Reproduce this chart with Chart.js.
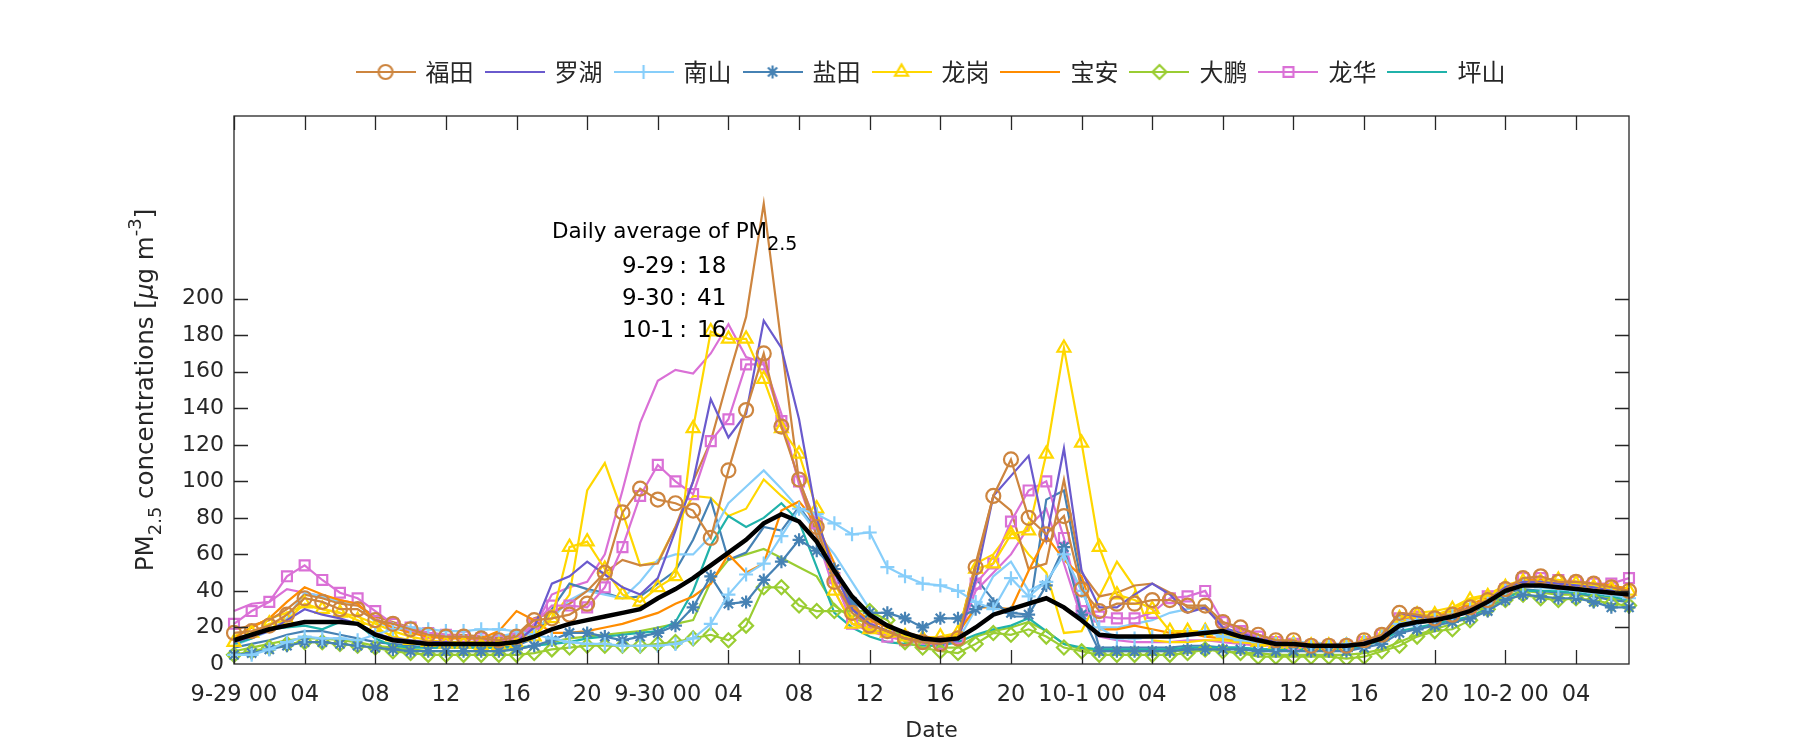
<!DOCTYPE html>
<html><head><meta charset="utf-8">
<script src="https://cdn.jsdelivr.net/npm/chart.js@4/dist/chart.umd.min.js"></script>
<style>html,body{margin:0;padding:0;background:#fff}#wrap{width:1800px;height:750px}</style>
</head><body><div id="wrap"><canvas id="c" width="1800" height="750"></canvas></div>
<script>
// ---------- DATA (hourly, 9-29 00:00 .. 10-2 07:00) ----------
const days = ['9-29', '9-30', '10-1', '10-2'];
const tickLabels = ['9-29 00','04','08','12','16','20','9-30 00','04','08','12','16','20','10-1 00','04','08','12','16','20','10-2 00','04'];
const districts = ['福田','罗湖','南山','盐田','龙岗','宝安','大鹏','龙华','坪山'];
const dailyDates = ['9-29', '9-30', '10-1'];
const dailyAvg = [18, 41, 16];

const futian = [17,18,21,27,36,34,30,30, 24,22,19,16,15,15,14,13, 15,24,25,27,33,50,83,96,
  90,88,84,69,106,139,170,130, 101,75,45,28,21,18,14,12, 11,14,53,92,112,80,71,81,
  41,29,33,33,35,35,32,32, 23,20,16,13,13,10,10,10, 13,16,28,27,25,27,31,35, 41,47,48,45,45,44,42,40];
const futianB = [19,21,24,30,38,36,33,32, 26,23,20,17,16,16,15,14, 16,25,28,33,40,50,57,54,
  55,75,100,122,157,190,252,175, 100,70,45,30,22,18,15,13, 12,15,55,92,84,52,55,101,
  50,37,39,43,44,39,31,30, 22,19,16,13,12,11,10,10, 12,15,27,26,26,28,32,36, 42,46,47,46,45,44,43,41];
const luohu = [12,15,18,24,30,27,25,22, 17,14,13,12,12,11,11,11, 12,20,44,48,56,49,42,38,
  47,73,100,145,124,137,188,173, 134,80,50,30,22,18,14,12, 11,13,46,92,103,114,68,118,
  51,31,31,38,44,38,28,31, 20,17,14,12,11,10,10,10, 12,15,28,26,25,27,30,35, 42,45,45,44,43,42,40,38];
const nanshan = [5,5,8,12,15,14,14,13, 16,19,20,19,18,18,19,19, 18,16,14,12,11,11,10,10,
  10,11,14,22,38,49,55,70, 85,82,77,71,72,53,48,44, 43,40,34,30,47,37,45,60,
  40,20,14,14,15,15,16,18, 15,13,12,11,11,10,10,11, 12,15,22,24,25,27,30,33, 40,43,42,41,40,39,38,36];
const nanshanB = [10,14,18,25,39,37,34,33, 23,20,19,17,16,15,15,15, 17,20,25,35,40,38,36,45,
  57,60,60,70,88,97,106,96, 85,72,60,45,30,20,15,13, 12,13,30,48,56,40,45,60,
  40,20,20,22,24,28,30,32, 20,16,14,13,12,12,11,11, 12,16,24,25,26,28,31,35, 42,44,44,43,42,41,40,38];
const yantian = [5,6,8,10,12,12,11,10, 9,8,7,7,7,7,7,7, 8,10,13,17,17,15,13,15,
  17,21,31,48,33,34,46,56, 68,62,52,34,28,28,25,20, 25,25,30,33,28,27,43,64,
  27,7,7,7,7,7,8,8, 8,8,7,7,7,7,7,7, 9,11,17,19,21,23,25,29, 35,38,37,36,36,34,31,31];
const yantianB = [9,11,13,16,18,18,16,14, 12,11,10,9,9,9,9,9, 10,14,30,44,41,39,36,37,
  44,51,68,90,57,61,75,73, 86,73,51,30,22,18,15,13, 12,14,47,35,26,26,90,95,
  44,9,9,9,9,9,10,10, 9,9,8,8,8,8,8,8, 10,13,20,22,24,26,28,32, 39,41,40,39,39,37,35,34];
const longgang = [12,17,22,24,33,30,28,24, 20,15,13,12,11,11,10,10, 11,15,25,64,67,52,38,34,
  42,48,129,182,178,178,156,129, 115,85,40,22,19,17,15,14, 15,17,52,55,71,73,115,173,
  121,64,38,35,30,18,18,18, 16,14,12,11,11,10,10,10, 12,15,25,27,27,30,35,37, 42,45,45,46,44,42,41,40];
const longgangB = [15,20,25,28,32,30,28,26, 22,18,15,13,12,12,12,12, 13,18,25,38,95,110,83,54,
  56,75,92,91,81,85,101,92, 84,75,45,25,18,16,14,13, 13,16,55,60,73,60,50,17,
  18,37,56,42,13,12,12,13, 13,12,11,10,10,10,10,10, 12,16,26,28,29,31,36,38, 43,46,46,45,44,43,42,41];
const baoan = [14,20,25,34,42,38,35,33, 24,20,17,15,14,14,14,18, 29,24,17,17,18,20,22,25,
  28,33,37,44,60,50,55,84, 89,77,55,31,24,20,17,15, 14,17,31,31,30,51,70,57,
  48,19,19,21,19,17,17,15, 14,13,12,11,11,10,10,10, 12,15,25,26,27,29,33,36, 42,46,46,45,45,44,43,41];
const dapeng = [5,7,9,11,12,12,11,10, 9,7,6,5,5,5,5,5, 5,6,8,9,10,10,10,10,
  11,12,14,16,13,21,42,42, 32,29,29,29,29,24,12,9, 7,6,11,17,16,19,15,9,
  7,5,5,5,5,5,6,8, 7,6,4,4,4,4,4,3, 4,7,10,15,18,19,24,30, 35,38,36,35,36,35,33,32];
const dapengB = [7,9,11,13,14,14,13,12, 10,9,8,7,7,7,7,7, 8,10,12,14,15,16,17,18,
  20,22,24,45,57,60,63,58, 53,48,32,25,22,18,14,11, 9,9,15,18,20,23,18,11,
  8,7,7,7,7,7,7,8, 7,6,6,5,5,5,5,5, 6,8,12,16,19,22,26,31, 37,40,39,38,38,37,36,35];
const longhua = [22,29,34,48,54,46,39,36, 29,22,20,17,16,15,14,13, 14,22,32,32,31,42,64,92,
  109,100,93,122,134,164,164,133, 100,77,47,22,20,15,13,11, 11,14,44,55,78,95,100,69,
  29,26,25,25,28,36,37,40, 23,18,15,12,11,10,10,10, 12,16,25,26,25,27,30,37, 41,47,47,46,45,44,44,47];
const longhuaB = [29,33,34,41,39,37,35,33, 25,20,18,16,15,14,13,13, 14,20,38,42,45,60,95,132,
  155,161,159,170,186,168,165,137, 98,70,40,22,18,15,13,12, 12,14,40,50,60,75,85,55,
  25,15,13,12,12,12,13,13, 12,11,10,10,9,9,9,9, 11,14,24,25,25,27,29,35, 41,44,44,43,42,41,41,40];
const pingshan = [11,14,19,20,21,19,23,22, 14,10,9,9,9,9,9,9, 9,10,11,12,14,15,16,17,
  18,23,40,65,81,75,80,88, 78,53,28,20,15,12,11,10, 10,12,16,19,21,25,18,11,
  9,8,8,8,8,8,9,9, 9,9,8,8,8,8,8,8, 10,13,18,20,22,24,26,30, 36,40,40,40,39,38,37,35];
const average = [13,16,19,21,23,23,23,22, 16,13,12,11,11,11,11,11, 12,15,19,22,24,26,28,30,
  36,41,47,54,61,68,77,82, 78,67,51,37,27,21,17,14, 13,14,20,27,30,33,36,31,
  24,16,15,15,15,15,16,17, 18,15,13,11,11,10,10,10, 11,14,21,23,24,26,29,34, 40,43,43,42,41,40,39,38];

// categories: one per hour
const categories = [];
days.forEach(d => { for (let h = 0; h < 24; h++) categories.push(d + ' ' + String(h).padStart(2, '0')); });
categories.length = futian.length;

// ---------- STYLES ----------
const colors = ['#CD853F','#6A5ACD','#87CEFA','#4682B4','#FFD700','#FF8C00','#9ACD32','#DA70D6','#20B2AA'];
const markers = ['circle', null, 'cross', 'star', 'triangle', null, 'rectRot', 'rect', null];
const markerSize = [7, 0, 7, 6.5, 7.5, 0, 7, 7, 0];
const TXT = '#262626';
const FONT = '"DejaVu Sans", "Liberation Sans", sans-serif';
const LW = 2.2;

function drawMarker(g, style, x, y, r) {
  g.beginPath();
  if (style === 'circle') { g.arc(x, y, r, 0, Math.PI * 2); }
  else if (style === 'cross') { g.moveTo(x - r, y); g.lineTo(x + r, y); g.moveTo(x, y - r); g.lineTo(x, y + r); }
  else if (style === 'star') { const d = r * Math.SQRT1_2; g.moveTo(x - r, y); g.lineTo(x + r, y); g.moveTo(x, y - r); g.lineTo(x, y + r);
    g.moveTo(x - d, y - d); g.lineTo(x + d, y + d); g.moveTo(x - d, y + d); g.lineTo(x + d, y - d); }
  else if (style === 'triangle') { let a = 0; g.moveTo(x + Math.sin(a) * r, y - Math.cos(a) * r);
    for (let k = 0; k < 2; k++) { a += 2 * Math.PI / 3; g.lineTo(x + Math.sin(a) * r, y - Math.cos(a) * r); } g.closePath(); }
  else if (style === 'rectRot') { g.moveTo(x, y - r); g.lineTo(x + r, y); g.lineTo(x, y + r); g.lineTo(x - r, y); g.closePath(); }
  else if (style === 'rect') { const s = r * Math.SQRT1_2; g.rect(x - s, y - s, 2 * s, 2 * s); }
  g.stroke();
}
function makeIcon(i) {
  const c = document.createElement('canvas'); c.width = 60; c.height = 22;
  const g = c.getContext('2d'); g.strokeStyle = colors[i]; g.lineWidth = LW;
  g.beginPath(); g.moveTo(0, 11); g.lineTo(60, 11); g.stroke();
  if (markers[i]) drawMarker(g, markers[i], 30, 11, markerSize[i]);
  return c;
}
const icons = districts.map((d, i) => makeIcon(i));

function mainDs(i, data) {
  return { label: districts[i], data, borderColor: colors[i], backgroundColor: colors[i], borderWidth: LW,
    pointStyle: markers[i] || 'circle', pointRadius: markers[i] ? markerSize[i] : 0, pointBorderWidth: LW,
    pointBackgroundColor: 'rgba(0,0,0,0)', pointBorderColor: colors[i], pointHoverRadius: 0, tension: 0, fill: false };
}
function extraDs(i, data) {
  return { label: '', data, borderColor: colors[i], borderWidth: LW, pointRadius: 0, pointHoverRadius: 0, tension: 0, fill: false };
}

const datasets = [
  mainDs(0, futian), mainDs(1, luohu), mainDs(2, nanshan), mainDs(3, yantian), mainDs(4, longgang),
  mainDs(5, baoan), mainDs(6, dapeng), mainDs(7, longhua), mainDs(8, pingshan),
  extraDs(0, futianB), extraDs(2, nanshanB), extraDs(3, yantianB), extraDs(4, longgangB), extraDs(6, dapengB), extraDs(7, longhuaB),
  { label: 'avg', data: average, borderColor: '#000', borderWidth: 4.5, pointRadius: 0, pointHoverRadius: 0, tension: 0, fill: false, order: -1 }
];

// ---------- PLUGINS ----------
const legendHeight = { id: 'legendHeight', beforeInit(chart) {
  const lg = chart.legend; if (!lg) return; const fit = lg.fit;
  lg.fit = function () { fit.call(this); this.height = 69; };
} };

function drawRich(ctx, parts, x, y, align) {
  // parts: [text, size, dy, italic]
  let total = 0;
  parts.forEach(p => { ctx.font = (p[3] ? 'italic ' : '') + p[1] + 'px ' + FONT; total += ctx.measureText(p[0]).width; });
  let cx = align === 'center' ? x - total / 2 : x;
  parts.forEach(p => { ctx.font = (p[3] ? 'italic ' : '') + p[1] + 'px ' + FONT; ctx.fillText(p[0], cx, y + p[2]); cx += ctx.measureText(p[0]).width; });
}

const frame = { id: 'frame', afterDraw(chart) {
  const { ctx, chartArea: a, scales } = chart; const x = scales.x, y = scales.y;
  ctx.save();
  ctx.strokeStyle = TXT; ctx.lineWidth = 1.3;
  ctx.strokeRect(a.left, a.top, a.right - a.left, a.bottom - a.top);
  const TL = 14;
  ctx.beginPath();
  for (let i = 0; i < categories.length; i += 4) {
    const px = Math.round(x.getPixelForValue(i)) + 0.5;
    ctx.moveTo(px, a.bottom); ctx.lineTo(px, a.bottom - TL);
    ctx.moveTo(px, a.top); ctx.lineTo(px, a.top + TL);
  }
  for (let v = 20; v <= 200; v += 20) {
    const py = Math.round(y.getPixelForValue(v)) + 0.5;
    ctx.moveTo(a.left, py); ctx.lineTo(a.left + TL, py);
    ctx.moveTo(a.right, py); ctx.lineTo(a.right - TL, py);
  }
  ctx.stroke();
  // axis titles
  ctx.fillStyle = TXT; ctx.textBaseline = 'middle';
  ctx.font = '22px ' + FONT; ctx.textAlign = 'center';
  ctx.fillText('Date', (a.left + a.right) / 2, 731);
  ctx.textAlign = 'left';
  ctx.save(); ctx.translate(147, (a.top + a.bottom) / 2); ctx.rotate(-Math.PI / 2);
  drawRich(ctx, [['PM', 24.5, 0], ['2.5', 18, 9], [' concentrations [', 24.5, 0], ['\u03bc', 24.5, 0, true], ['g m', 24.5, 0], ['-3', 18, -11], [']', 24.5, 0]], 0, 0, 'center');
  ctx.restore();
  // annotation
  ctx.fillStyle = '#000';
  drawRich(ctx, [['Daily average of PM', 21.5, 0], ['2.5', 19, 13]], a.left + 318, 232, 'left');
  dailyDates.forEach((d, k) => {
    const yy = 267 + k * 32;
    ctx.font = '23px ' + FONT;
    ctx.textAlign = 'left'; ctx.fillText(d, a.left + 388, yy);
    ctx.textAlign = 'center'; ctx.fillText(':', a.left + 449, yy);
    ctx.textAlign = 'left'; ctx.fillText(String(dailyAvg[k]), a.left + 463, yy);
  });
  ctx.restore();
} };

Chart.defaults.font.family = FONT;
Chart.defaults.color = TXT;

new Chart(document.getElementById('c'), {
  type: 'line',
  data: { labels: categories, datasets },
  options: {
    responsive: false, animation: false, devicePixelRatio: 1,
    layout: { padding: { left: 0, right: 171, top: 47, bottom: 0 } },
    plugins: {
      tooltip: { enabled: false },
      legend: { position: 'top', fullSize: false, align: 'center',
        labels: { usePointStyle: true, pointStyleWidth: 56, padding: 13, color: TXT,
          font: { family: '"Noto Sans CJK SC", sans-serif', size: 24 },
          generateLabels: () => districts.map((d, i) => ({ text: d, pointStyle: icons[i], datasetIndex: i, hidden: false,
            fillStyle: colors[i], strokeStyle: colors[i], lineWidth: 0, fontColor: TXT })) } }
    },
    scales: {
      x: { type: 'category', offset: false, grid: { display: false, drawTicks: false }, border: { display: false },
        ticks: { autoSkip: false, maxRotation: 0, minRotation: 0, padding: 18, color: TXT, font: { size: 22.5 },
          callback: (v, i) => (i % 4 === 0 ? tickLabels[i / 4] : null) },
        afterFit: s => { s.height = 86; } },
      y: { min: 0, max: 300, grid: { display: false, drawTicks: false }, border: { display: false },
        ticks: { stepSize: 20, padding: 10, color: TXT, font: { size: 22 }, callback: v => (v <= 200 ? v : null) },
        afterFit: s => { s.width = 234; } }
    }
  },
  plugins: [legendHeight, frame]
});
</script></body></html>
